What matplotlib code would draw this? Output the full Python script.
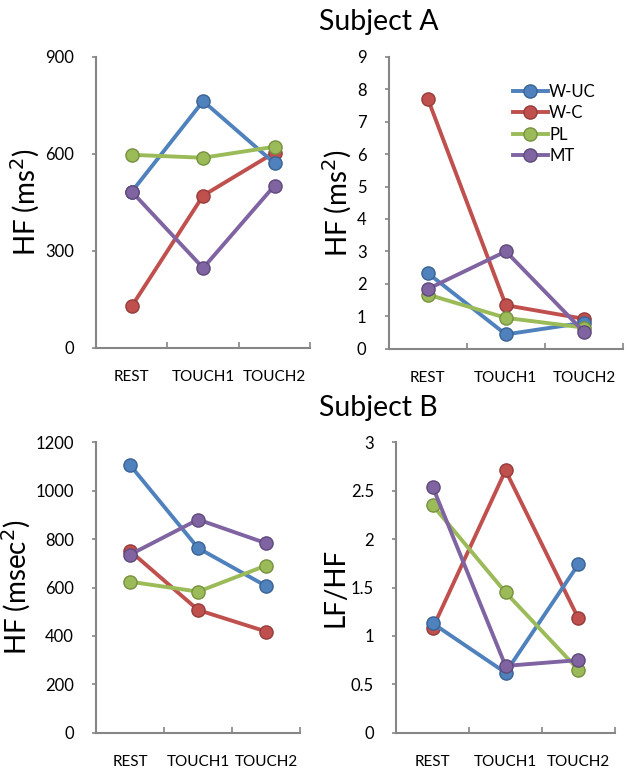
import matplotlib
matplotlib.use('Agg')
import numpy as np
import matplotlib.pyplot as plt

plt.rcParams['font.family'] = ['Lato', 'DejaVu Sans']

categories = ['REST', 'TOUCH1', 'TOUCH2']
series_names = ['W-UC', 'W-C', 'PL', 'MT']

# Subject A, HF (ms^2), left panel
a_left = {
    'W-UC': [483, 763, 571],
    'W-C': [129, 471, 604],
    'PL': [597, 588, 622],
    'MT': [483, 247, 502],
}
# Subject A, HF (ms^2), right panel
a_right = {
    'W-UC': [2.33, 0.44, 0.80],
    'W-C': [7.71, 1.34, 0.92],
    'PL': [1.67, 0.95, 0.65],
    'MT': [1.84, 3.00, 0.52],
}
# Subject B, HF (msec^2)
b_left = {
    'W-UC': [1106, 763, 606],
    'W-C': [751, 507, 418],
    'PL': [624, 583, 691],
    'MT': [736, 881, 783],
}
# Subject B, LF/HF
b_right = {
    'W-UC': [1.13, 0.62, 1.74],
    'W-C': [1.08, 2.71, 1.18],
    'PL': [2.35, 1.45, 0.65],
    'MT': [2.54, 0.69, 0.75],
}

colors = {'W-UC': '#4F81BD', 'W-C': '#C0504D', 'PL': '#9BBB59', 'MT': '#8064A2'}
edges = {'W-UC': '#3A6394', 'W-C': '#963C3A', 'PL': '#76913F', 'MT': '#5F4A7B'}
zorders = {'W-C': 3, 'W-UC': 4, 'PL': 5, 'MT': 6}
spine_col = '#868686'


def draw_panel(ax, data, ylim, yticks, yticklabels, ylabel, legend=False):
    x = np.arange(len(categories))
    for name in series_names:
        ax.plot(x, data[name], color=colors[name], lw=2.8, marker='o', ms=9.5,
                mfc=colors[name], mec=edges[name], mew=1.0, label=name,
                zorder=zorders[name], clip_on=False)
    ax.set_xlim(-0.5, 2.5)
    ax.set_ylim(*ylim)
    ax.set_yticks(yticks)
    ax.set_yticklabels(yticklabels, fontsize=12)
    ax.set_xticks([-0.5, 0.5, 1.5, 2.5])
    ax.set_xticklabels([])
    ax.set_xticks(x, minor=True)
    ax.set_xticklabels(categories, minor=True, fontsize=11)
    ax.tick_params(axis='x', which='major', direction='in', length=4,
                   color=spine_col, width=1.2)
    ax.tick_params(axis='x', which='minor', length=0, pad=16)
    ax.tick_params(axis='y', direction='out', length=3, color=spine_col,
                   width=1.2, pad=13)
    for s in ['top', 'right']:
        ax.spines[s].set_visible(False)
    for s in ['left', 'bottom']:
        ax.spines[s].set_color(spine_col)
        ax.spines[s].set_linewidth(1.5)
    ax.set_ylabel(ylabel, fontsize=20, labelpad=2)
    if legend:
        ax.legend(loc='upper left', bbox_to_anchor=(0.5, 0.93), frameon=False,
                  fontsize=12, handlelength=2.1, labelspacing=0.32,
                  handletextpad=0.1, borderaxespad=0)


fig = plt.figure(figsize=(6.28, 7.68), dpi=100)

ax1 = fig.add_axes([0.153, 0.547, 0.341, 0.379])
draw_panel(ax1, a_left, (0, 900), [0, 300, 600, 900],
           ['0', '300', '600', '900'], 'HF (ms$^2$)')

ax2 = fig.add_axes([0.619, 0.546, 0.373, 0.380])
draw_panel(ax2, a_right, (0, 9), range(10), [str(i) for i in range(10)],
           'HF (ms$^2$)', legend=True)

ax3 = fig.add_axes([0.153, 0.046, 0.325, 0.378])
draw_panel(ax3, b_left, (0, 1200), range(0, 1201, 200),
           [str(i) for i in range(0, 1201, 200)], 'HF (msec$^2$)')

ax4 = fig.add_axes([0.631, 0.046, 0.348, 0.378])
draw_panel(ax4, b_right, (0, 3), [0, 0.5, 1, 1.5, 2, 2.5, 3],
           ['0', '0.5', '1', '1.5', '2', '2.5', '3'], 'LF/HF')

fig.text(0.603, 0.971, 'Subject A', ha='center', va='center', fontsize=20.5)
fig.text(0.603, 0.469, 'Subject B', ha='center', va='center', fontsize=20.5)

fig.savefig('out.png', dpi=100)
